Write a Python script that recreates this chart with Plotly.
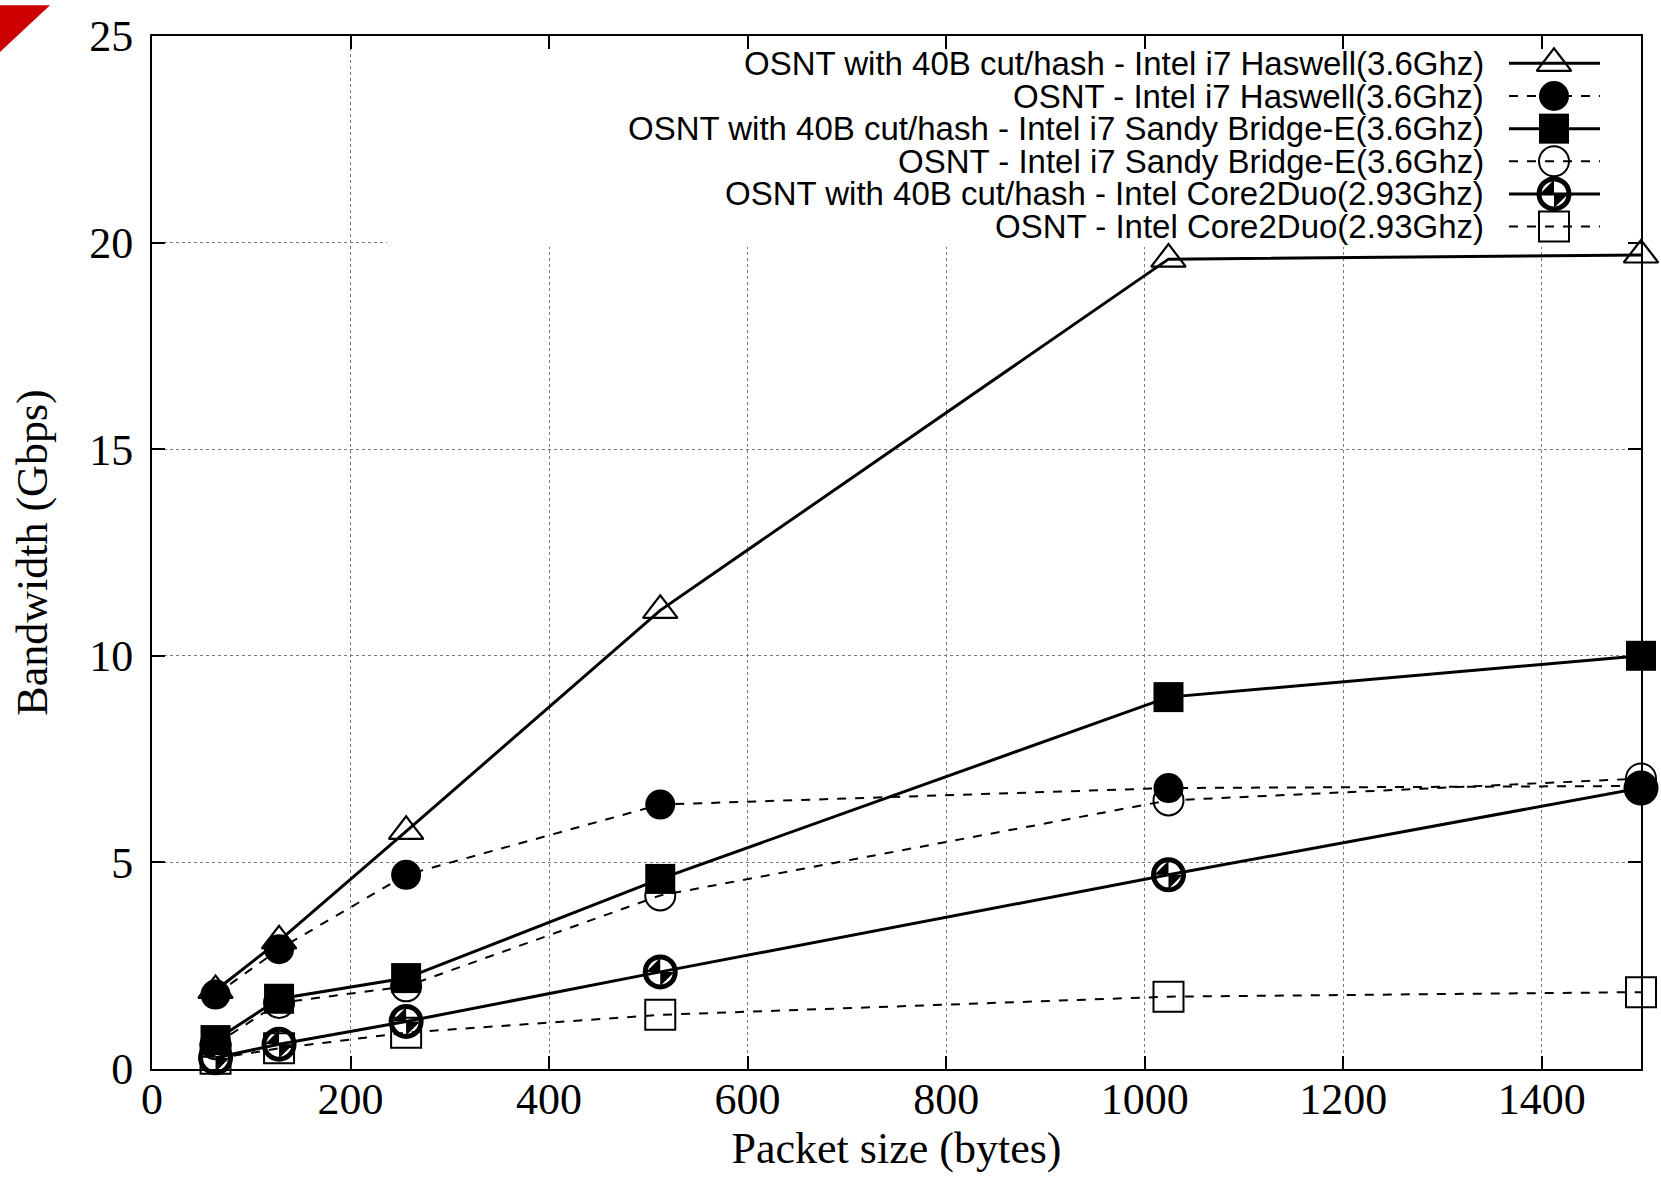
import plotly.graph_objects as go

# ---- data ----
packet_sizes = [64, 128, 256, 512, 1024, 1500]
haswell_cut = [1.9, 3.1, 5.75, 11.1, 19.6, 19.7]
haswell = [1.8, 2.9, 4.7, 6.4, 6.8, 6.85]
sandy_cut = [0.7, 1.7, 2.2, 4.6, 9.0, 10.0]
sandy = [0.6, 1.6, 2.0, 4.2, 6.5, 7.03]
core2_cut = [0.27, 0.6, 1.15, 2.35, 4.7, 6.8]
core2 = [0.25, 0.5, 0.88, 1.31, 1.75, 1.86]

series_names = [
    "OSNT with 40B cut/hash - Intel i7 Haswell(3.6Ghz)",
    "OSNT - Intel i7 Haswell(3.6Ghz)",
    "OSNT with 40B cut/hash - Intel i7 Sandy Bridge-E(3.6Ghz)",
    "OSNT - Intel i7 Sandy Bridge-E(3.6Ghz)",
    "OSNT with 40B cut/hash - Intel Core2Duo(2.93Ghz)",
    "OSNT - Intel Core2Duo(2.93Ghz)",
]
series_values = [haswell_cut, haswell, sandy_cut, sandy, core2_cut, core2]

x_ticks = [0, 200, 400, 600, 800, 1000, 1200, 1400]
y_ticks = [0, 5, 10, 15, 20, 25]
x_range = [0, 1500]
y_range = [0, 25]

# ---- styles ----
W, H = 1661, 1182
L, R, T, B = 152, 1641, 31, 1069  # plot area in pixels

styles = [
    dict(dash="solid", lw=3, symbol="triangle-up-open", size=30, mlw=2.2),
    dict(dash="9px,9px", lw=2, symbol="circle", size=30, mlw=0),
    dict(dash="solid", lw=3, symbol="square", size=30, mlw=0),
    dict(dash="9px,9px", lw=2, symbol="circle-open", size=30, mlw=2),
    dict(dash="solid", lw=3, symbol="circle-open", size=30, mlw=5),
    dict(dash="9px,9px", lw=2, symbol="square-open", size=30, mlw=2),
]

def px_to_data_x(px):
    return x_range[0] + (px - L) / (R - L) * (x_range[1] - x_range[0])

def px_to_data_y(py):
    return y_range[0] + (B - py) / (B - T) * (y_range[1] - y_range[0])

fig = go.Figure()

# opaque key box (hides the grid behind the key, data drawn on top)
bx0, bx1 = px_to_data_x(387), x_range[1]
by0, by1 = px_to_data_y(243), y_range[1]
fig.add_trace(go.Scatter(
    x=[bx0, bx1, bx1, bx0, bx0], y=[by0, by0, by1, by1, by0],
    mode="lines", fill="toself", fillcolor="white", line=dict(width=0, color="white"),
    showlegend=False, hoverinfo="skip",
))

for name, vals, st in zip(series_names, series_values, styles):
    fig.add_trace(go.Scatter(
        x=packet_sizes, y=vals, mode="lines+markers", name=name,
        line=dict(color="black", width=st["lw"], dash=st["dash"]),
        marker=dict(symbol=st["symbol"], size=st["size"], color="black",
                    line=dict(color="black", width=st["mlw"])),
        cliponaxis=False, showlegend=False, hoverinfo="x+y+name",
    ))
    if name.startswith("OSNT with 40B cut/hash - Intel Core2Duo"):
        fig.add_trace(go.Scatter(
            x=packet_sizes, y=vals, mode="markers",
            marker=dict(symbol="bowtie", size=20, angle=45, color="black",
                        line=dict(width=0)),
            cliponaxis=False, showlegend=False, hoverinfo="skip",
        ))

# ---- manual key (right-aligned text, sample on the right) ----
row_y0 = 58.5
row_dy = 32.8
text_right = 1486
line_x0, line_x1 = 1509, 1600
mark_x = 1554

annotations = []
for i, (name, st) in enumerate(zip(series_names, styles)):
    yy = row_y0 + i * row_dy
    fig.add_trace(go.Scatter(
        x=[line_x0, mark_x, line_x1], y=[yy, yy, yy], xaxis="x2", yaxis="y2",
        mode="lines", line=dict(color="black", width=st["lw"], dash=st["dash"]),
        showlegend=False, hoverinfo="skip", cliponaxis=False,
    ))
    fig.add_trace(go.Scatter(
        x=[mark_x], y=[yy], xaxis="x2", yaxis="y2", mode="markers",
        marker=dict(symbol=st["symbol"], size=st["size"], color="black",
                    line=dict(color="black", width=st["mlw"])),
        showlegend=False, hoverinfo="skip", cliponaxis=False,
    ))
    if name.startswith("OSNT with 40B cut/hash - Intel Core2Duo"):
        fig.add_trace(go.Scatter(
            x=[mark_x], y=[yy], xaxis="x2", yaxis="y2", mode="markers",
            marker=dict(symbol="bowtie", size=20, angle=45, color="black",
                        line=dict(width=0)),
            showlegend=False, hoverinfo="skip", cliponaxis=False,
        ))
    annotations.append(dict(
        x=text_right, y=yy, xref="x2", yref="y2", text=name, showarrow=False,
        xanchor="right", yanchor="middle",
        font=dict(family="Liberation Sans", size=33, color="black"),
    ))

axis_font = dict(family="Liberation Serif", size=44, color="black")
common = dict(
    showgrid=True, gridcolor="#7a7a7a", gridwidth=1, griddash="dot",
    ticks="inside", ticklen=13, tickwidth=2, tickcolor="black",
    showline=True, linecolor="black", linewidth=2, mirror="allticks",
    zeroline=False, tickfont=axis_font,
)

def px_to_paper_x(px):
    return (px - L) / (R - L)

def px_to_paper_y(py):
    return (B - py) / (B - T)

fig.update_layout(
    width=W, height=H, autosize=False,
    margin=dict(l=L, r=W - R, t=T, b=H - B, pad=0),
    plot_bgcolor="white", paper_bgcolor="white",
    xaxis=dict(range=x_range, tickvals=x_ticks, ticklabelstandoff=-10,
               title=dict(text="Packet size (bytes)", font=axis_font, standoff=0),
               **common),
    yaxis=dict(range=y_range, tickvals=y_ticks, ticklabelstandoff=8,
               title=dict(text="Bandwidth (Gbps)", font=axis_font, standoff=28),
               **common),
    xaxis2=dict(range=[L, R], overlaying="x", anchor="y2", visible=False),
    yaxis2=dict(range=[B, T], overlaying="y", anchor="x2", visible=False),
    annotations=annotations,
    shapes=[
        # red corner mark
        dict(type="path", xref="paper", yref="paper",
             path=f"M {px_to_paper_x(0)},{px_to_paper_y(0)} L {px_to_paper_x(50)},{px_to_paper_y(0)} L {px_to_paper_x(0)},{px_to_paper_y(47)} Z",
             fillcolor="#cc0000", line=dict(width=0), layer="above"),
    ],
)

fig.write_html("out.html", config={"displayModeBar": False},
               post_script="document.body.style.margin='0';")
